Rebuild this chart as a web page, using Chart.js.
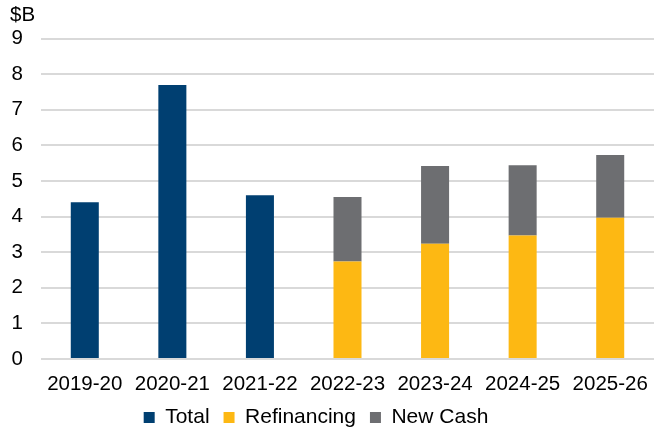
<!DOCTYPE html>
<html><head><meta charset="utf-8">
<script src="https://cdn.jsdelivr.net/npm/chart.js@4/dist/chart.umd.min.js"></script>
<style>html,body{margin:0;padding:0;background:#fff}#wrap{width:665px;height:429px}</style>
</head><body><div id="wrap"><canvas id="c" width="665" height="429"></canvas></div>
<script>
const categories = ["2019-20","2020-21","2021-22","2022-23","2023-24","2024-25","2025-26"];
const totalValues = [4.4, 7.7, 4.6, null, null, null, null];
const refinancingValues = [null, null, null, 2.74, 3.24, 3.47, 3.97];
const newCashValues = [null, null, null, 1.81, 2.18, 1.97, 1.76];
const yTicks = [0,1,2,3,4,5,6,7,8,9];

const FONT = "'Liberation Sans', Arial, sans-serif";
const legendShift = {
  id: 'legendShift',
  afterLayout(chart) {
    const lg = chart.legend;
    if (lg) { lg.left -= 16; lg.right -= 16; }
  }
};
new Chart(document.getElementById('c'), {
  type: 'bar',
  plugins: [legendShift],
  data: {
    labels: categories,
    datasets: [
      {label: 'Total', data: totalValues, backgroundColor: '#003F71', categoryPercentage: 1, barPercentage: 0.32},
      {label: 'Refinancing', data: refinancingValues, backgroundColor: '#FDB813', categoryPercentage: 1, barPercentage: 0.32},
      {label: 'New Cash', data: newCashValues, backgroundColor: '#6D6E71', categoryPercentage: 1, barPercentage: 0.32}
    ]
  },
  options: {
    responsive: false,
    animation: false,
    layout: {padding: {left: 10, right: 11, top: 0, bottom: -9}},
    plugins: {
      title: {display: true, text: '$B', align: 'start', color: '#000', font: {family: FONT, size: 20.5, weight: 'normal'}, padding: {top: 3, bottom: 11}},
      legend: {position: 'bottom', labels: {color: '#000', font: {family: FONT, size: 21}, boxWidth: 11, boxHeight: 11, padding: 14}},
      tooltip: {enabled: false}
    },
    scales: {
      x: {
        stacked: true,
        grid: {display: false},
        border: {display: false},
        ticks: {color: '#000', font: {family: FONT, size: 20.5}, padding: 5, maxRotation: 0},
        afterFit: (s) => { s.height = 34; }
      },
      y: {
        stacked: true,
        min: 0, max: 9,
        afterBuildTicks: (s) => { s.ticks = yTicks.map(v => ({value: v})); },
        grid: {color: '#D9D9D9', lineWidth: 2, drawTicks: false},
        border: {display: false},
        ticks: {color: '#000', font: {family: FONT, size: 20.5}, padding: 18},
        afterFit: (s) => { s.width = 31; }
      }
    }
  }
});
</script>
</body></html>
